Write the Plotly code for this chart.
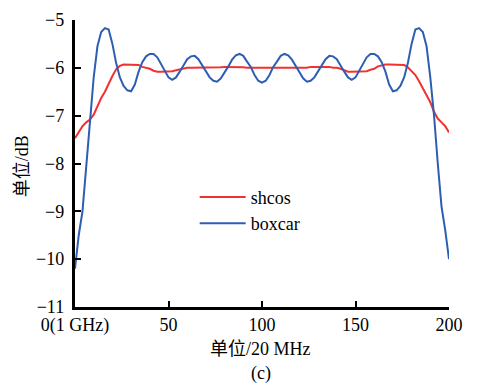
import plotly.graph_objects as go

# ---- data ----
x_box = list(range(0, 201, 2))
y_box = [-10.2, -9.5, -9.0, -8.0, -7.0, -6.2, -5.55, -5.25, -5.17, -5.2,
         -5.5, -5.9, -6.2, -6.38, -6.47, -6.49, -6.35, -6.08, -5.88, -5.76,
         -5.71, -5.71, -5.78, -5.92, -6.07, -6.2, -6.25, -6.2, -6.08, -5.96,
         -5.82, -5.76, -5.75, -5.82, -5.94, -6.07, -6.2, -6.27, -6.29, -6.22,
         -6.1, -5.97, -5.83, -5.74, -5.71, -5.75, -5.87, -5.98, -6.15, -6.27,
         -6.31,
         -6.27, -6.15, -5.98, -5.87, -5.75, -5.71, -5.74, -5.83, -5.97, -6.1,
         -6.22, -6.29, -6.27, -6.2, -6.07, -5.94, -5.82, -5.75, -5.76, -5.82,
         -5.96, -6.08, -6.2, -6.25, -6.2, -6.07, -5.92, -5.78, -5.71, -5.71,
         -5.76, -5.88, -6.08, -6.35, -6.49, -6.47, -6.38, -6.2, -5.9, -5.5,
         -5.2, -5.17, -5.25, -5.55, -6.2, -7.0, -8.0, -8.9, -9.4, -10.0]

x_shcos = list(range(0, 201, 2))
y_shcos = [-7.47, -7.35, -7.22, -7.14, -7.08, -6.98, -6.8, -6.63, -6.5, -6.33,
           -6.17, -6.03, -5.96, -5.93, -5.93, -5.93, -5.93, -5.94, -5.98, -6.0,
           -6.02, -6.06, -6.08, -6.08, -6.08, -6.08, -6.07, -6.05, -6.03, -6.01,
           -6.0, -6.0, -6.0, -6.0, -6.0, -6.0, -6.0, -6.0, -6.0, -5.99,
           -5.98, -5.98, -5.98, -5.98, -5.98, -5.99, -6.0, -6.0, -6.0, -6.0,
           -6.0,
           -6.0, -6.0, -6.0, -6.0, -6.0, -6.0, -6.0, -6.0, -6.0, -6.0,
           -6.0, -6.0, -5.98, -5.98, -5.98, -5.98, -5.98, -5.98, -6.0, -6.0,
           -6.02, -6.05, -6.08, -6.08, -6.08, -6.08, -6.08, -6.07, -6.04, -6.02,
           -5.97, -5.95, -5.93, -5.93, -5.93, -5.93, -5.93, -5.94, -5.99, -6.06,
           -6.15, -6.28, -6.42, -6.57, -6.72, -6.92, -7.06, -7.14, -7.22, -7.35,
           -7.47]

x_tickvals = [0, 50, 100, 150, 200]
x_ticktext = ["0(1 GHz)", "50", "100", "150", "200"]
y_tickvals = [-11, -10, -9, -8, -7, -6, -5]
y_ticktext = ["\u221211", "\u221210", "\u22129", "\u22128", "\u22127", "\u22126", "\u22125"]

SERIF = "Liberation Serif"
CJK = "Liberation Serif, Noto Sans CJK SC"

fig = go.Figure()
fig.add_trace(go.Scatter(x=x_shcos, y=y_shcos, mode="lines", name="shcos",
                         line=dict(color="#F03232", width=2)))
fig.add_trace(go.Scatter(x=x_box, y=y_box, mode="lines", name="boxcar",
                         line=dict(color="#2E5EB4", width=2)))

axis_common = dict(ticks="inside", ticklen=6, tickwidth=2, tickcolor="black",
                   showline=True, linecolor="black", linewidth=2.5,
                   showgrid=False, zeroline=False,
                   tickfont=dict(family=SERIF, size=18, color="black"))

fig.update_layout(
    width=477, height=385,
    margin=dict(l=75, r=28, t=10, b=78),
    paper_bgcolor="white", plot_bgcolor="white",
    font=dict(family=SERIF, size=18, color="black"),
    showlegend=True,
    legend=dict(x=0.32, y=0.447, xanchor="left", yanchor="top", itemwidth=46,
                bgcolor="rgba(0,0,0,0)", font=dict(size=18, family=SERIF)),
    xaxis=dict(range=[0, 200], tickvals=x_tickvals, ticktext=x_ticktext,
               **axis_common),
    yaxis=dict(range=[-11, -5], tickvals=y_tickvals, ticktext=[t + " " for t in y_ticktext],
               **axis_common),
    annotations=[
        dict(text="单位/20 MHz", xref="paper", yref="paper", x=0.497, y=-0.145,
             xanchor="center", yanchor="middle", showarrow=False,
             font=dict(family=CJK, size=18)),
        dict(text="(c)", xref="paper", yref="paper", x=0.497, y=-0.232,
             xanchor="center", yanchor="middle", showarrow=False,
             font=dict(family=SERIF, size=18)),
        dict(text="单位/dB", xref="paper", yref="paper", x=-0.142, y=0.49,
             xanchor="center", yanchor="middle", showarrow=False, textangle=-90,
             font=dict(family=CJK, size=18)),
    ],
)

fig.write_html("out.html")
